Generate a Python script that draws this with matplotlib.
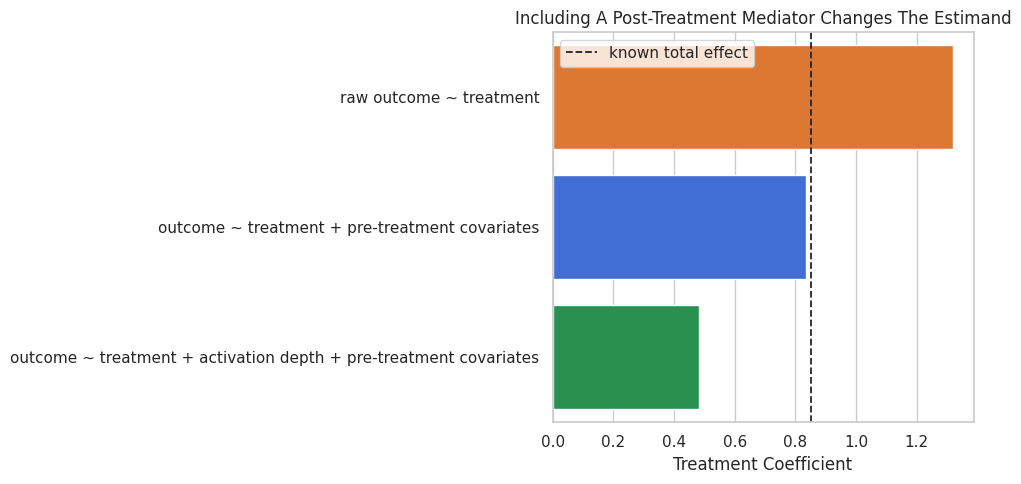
import matplotlib
matplotlib.use("Agg")
import matplotlib.pyplot as plt
import seaborn as sns

# model specifications and estimated treatment coefficients
models = [
    "raw outcome ~ treatment",
    "outcome ~ treatment + pre-treatment covariates",
    "outcome ~ treatment + activation depth + pre-treatment covariates",
]
coefficients = [1.321, 0.835, 0.481]
bar_colors = ["#dd7833", "#406ed4", "#299150"]
known_total_effect = 0.85

sns.set_theme(style="whitegrid")

fig, ax = plt.subplots(figsize=(10.21, 4.84), dpi=100)
sns.barplot(x=coefficients, y=models, hue=models, palette=bar_colors,
            saturation=1, legend=False, ax=ax)
ax.axvline(known_total_effect, color="#222233", linestyle="--", linewidth=1.3,
           label="known total effect")
ax.legend(loc="upper left")
ax.set_title("Including A Post-Treatment Mediator Changes The Estimand")
ax.set_xlabel("Treatment Coefficient")
ax.set_ylabel("")

fig.subplots_adjust(left=0.5412, right=0.9535, top=0.934, bottom=0.128)
plt.savefig("out.png", dpi=100)
